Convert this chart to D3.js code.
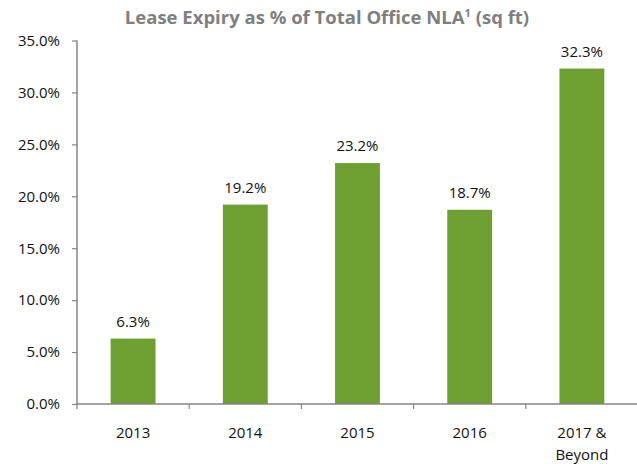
<!DOCTYPE html>
<html>
<head>
<meta charset="utf-8">
<script src="https://cdn.jsdelivr.net/npm/d3@7"></script>
<style>
  body { margin: 0; background: #fff; }
  text { font-family: "Open Sans", "Liberation Sans", sans-serif; }
</style>
</head>
<body>
<div id="chart"></div>
<script>
// chart data
var categories = ["2013", "2014", "2015", "2016", "2017 & Beyond"];
var values = [6.3, 19.2, 23.2, 18.7, 32.3];
var yTicks = [0, 5, 10, 15, 20, 25, 30, 35];
var title = "Lease Expiry as % of Total Office NLA";

var width = 637, height = 464;
var margin = {top: 40.5, right: -1, bottom: 60, left: 77};
var fs = 15;

var svg = d3.select("#chart").append("svg")
  .attr("width", width)
  .attr("height", height);

var x = d3.scaleBand()
  .domain(categories)
  .range([margin.left, width - margin.right])
  .paddingInner(0.6)
  .paddingOuter(0.3);

var y = d3.scaleLinear()
  .domain([0, 35])
  .range([height - margin.bottom, margin.top]);

var axisColor = "#868686";

// title
var t = svg.append("text")
  .attr("x", 327)
  .attr("y", 24)
  .attr("text-anchor", "middle")
  .attr("font-size", 18.5)
  .attr("font-weight", "bold")
  .attr("fill", "#7f7f7f")
  .text(title);
t.append("tspan").attr("dy", -7).attr("font-size", 11).text("1");
t.append("tspan").attr("dy", 7).text(" (sq ft)");

// bars
svg.append("g")
  .selectAll("rect")
  .data(values)
  .enter().append("rect")
    .attr("x", function(d, i) { return x(categories[i]); })
    .attr("width", x.bandwidth())
    .attr("y", function(d) { return y(d); })
    .attr("height", function(d) { return y(0) - y(d); })
    .attr("fill", "#6ea031");

// value labels
svg.append("g")
  .selectAll("text")
  .data(values)
  .enter().append("text")
    .attr("x", function(d, i) { return x(categories[i]) + x.bandwidth() / 2; })
    .attr("y", function(d) { return y(d) - 12; })
    .attr("text-anchor", "middle")
    .attr("font-size", fs)
    .attr("fill", "#111")
    .text(function(d) { return d.toFixed(1) + "%"; });

// y axis
var yAxis = svg.append("g")
  .attr("transform", "translate(" + margin.left + ",0)")
  .call(d3.axisLeft(y).tickValues(yTicks).tickSize(5).tickPadding(12)
    .tickFormat(function(d) { return d.toFixed(1) + "%"; }));
yAxis.select(".domain").attr("stroke", axisColor).attr("stroke-width", 1.5).attr("d", "M0," + y(35) + "V" + y(0));
yAxis.selectAll(".tick line").attr("stroke", axisColor).attr("stroke-width", 1.2);
yAxis.selectAll(".tick text").attr("font-size", fs).attr("fill", "#111")
  .style("font-family", "'Open Sans', sans-serif");

// x axis with ticks on band boundaries
var xg = svg.append("g").attr("transform", "translate(0," + y(0) + ")");
xg.append("line")
  .attr("x1", margin.left).attr("x2", width)
  .attr("stroke", axisColor).attr("stroke-width", 1.5);
var step = x.step();
xg.selectAll(".xt")
  .data(d3.range(categories.length + 1))
  .enter().append("line")
    .attr("x1", function(i) { return margin.left + i * step; })
    .attr("x2", function(i) { return margin.left + i * step; })
    .attr("y1", 0).attr("y2", 5)
    .attr("stroke", axisColor).attr("stroke-width", 1.2);

// category labels, wrapped onto separate lines where needed
var lines = [];
categories.forEach(function(c) {
  var parts = c === "2017 & Beyond" ? ["2017 &", "Beyond"] : [c];
  parts.forEach(function(p, j) { lines.push({cat: c, text: p, row: j}); });
});
xg.selectAll(".xl")
  .data(lines)
  .enter().append("text")
    .attr("text-anchor", "middle")
    .attr("font-size", fs)
    .attr("fill", "#111")
    .attr("x", function(d) { return x(d.cat) + x.bandwidth() / 2; })
    .attr("y", function(d) { return 34 + d.row * 22; })
    .text(function(d) { return d.text; });
</script>
</body>
</html>
